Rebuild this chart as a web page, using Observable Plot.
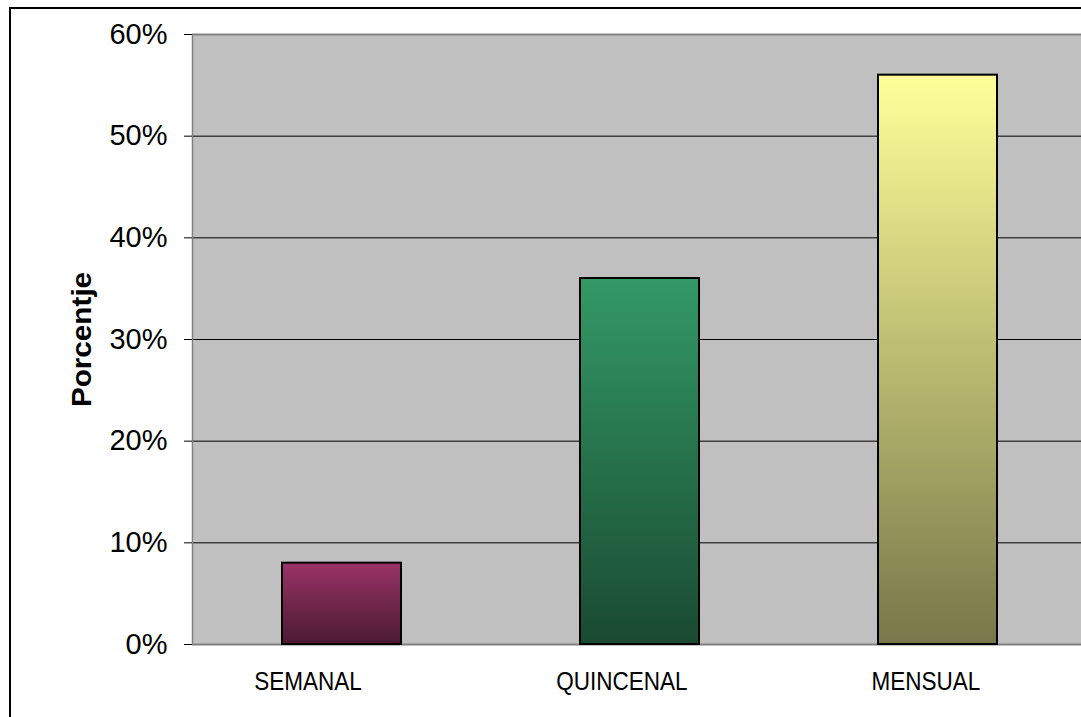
<!DOCTYPE html>
<html>
<head>
<meta charset="utf-8">
<script src="https://cdn.jsdelivr.net/npm/d3@7"></script>
<script src="https://cdn.jsdelivr.net/npm/@observablehq/plot@0.6"></script>
<style>
  html, body { margin: 0; padding: 0; background: #fff; overflow: hidden; }
  #wrap { position: relative; width: 1081px; height: 717px; overflow: hidden; }
  #chart { position: absolute; left: 0; top: 0; }
  #border { position: absolute; left: 9px; top: 7px; width: 1200px; height: 800px;
            border: 2px solid #000; pointer-events: none; }
  #chart svg { font-family: "Liberation Sans", Arial, sans-serif; }
</style>
</head>
<body>
<div id="wrap">
  <div id="chart"></div>
  <div id="border"></div>
</div>
<script>
// Frequency categories and the share of answers for each one
const categories = ["SEMANAL", "QUINCENAL", "MENSUAL"];
const shares = [0.08, 0.36, 0.56];
const yTicks = [0, 0.1, 0.2, 0.3, 0.4, 0.5, 0.6];
const yLabel = "Porcentje";

// Vertical gradient for each bar: light at the top, dark at the base
const gradientStops = [
  ["#9a3366", "#4a1a31"],
  ["#339966", "#194a31"],
  ["#ffff99", "#77774a"]
];

// Horizontal nudge of each category label relative to its bar centre
const labelShift = [-34, -18, -12];

const rows = categories.map((c, i) => ({category: c, share: shares[i], idx: i}));

// Render-function mark that only contributes the <defs> with the gradients
function gradients() {
  const defs = d3.create("svg:defs");
  gradientStops.forEach(([top, bottom], i) => {
    const g = defs.append("linearGradient")
      .attr("id", `bar-grad-${i}`)
      .attr("x1", 0).attr("y1", 0).attr("x2", 0).attr("y2", 1);
    g.append("stop").attr("offset", "0%").attr("stop-color", top);
    g.append("stop").attr("offset", "100%").attr("stop-color", bottom);
  });
  return defs.node();
}

const categoryLabels = rows.map((r, i) => Plot.text([r], {
  x: "category",
  y: 0,
  text: "category",
  dx: labelShift[i],
  dy: 28,
  lineAnchor: "top",
  fontSize: 25,
  className: "cat-label",
  fill: "#000"
}));

const chart = Plot.plot({
  width: 1087,
  height: 717,
  marginTop: 34,
  marginBottom: 73,
  marginLeft: 192,
  marginRight: 0,
  style: {background: "transparent", overflow: "visible", maxWidth: "none"},
  x: {domain: categories, paddingInner: 0.6, paddingOuter: 0.3, label: null},
  y: {domain: [0, 0.6], label: null},
  color: {type: "identity"},
  marks: [
    gradients,
    Plot.frame({fill: "#c0c0c0", stroke: null}),
    // horizontal gridlines
    Plot.ruleY(yTicks.filter(t => t > 0 && t < 0.6), {stroke: "#000", strokeWidth: 1}),
    // plot-area edges in grey
    Plot.ruleY([0.6], {stroke: "#808080", strokeWidth: 2}),
    Plot.ruleY([0], {stroke: "#808080", strokeWidth: 2}),
    Plot.frame({anchor: "left", stroke: "#808080", strokeWidth: 1.5}),
    Plot.barY(rows, {
      x: "category",
      y: "share",
      fill: d => `url(#bar-grad-${d.idx})`,
      stroke: "#000",
      strokeWidth: 2
    }),
    Plot.axisY({
      ticks: yTicks,
      tickFormat: d3.format(".0%"),
      tickSize: 8,
      tickPadding: 17,
      fontSize: 29,
      label: null,
      color: "#000"
    }),
    Plot.axisX({ticks: [], label: null}),
    ...categoryLabels,
    Plot.text([yLabel], {
      frameAnchor: "left",
      textAnchor: "middle",
      dx: -110,
      rotate: -90,
      fontSize: 28,
      fontWeight: "bold",
      className: "y-title",
      fill: "#000"
    })
  ]
});

document.getElementById("chart").appendChild(chart);

// Category labels are set in a condensed face; the axis title is slightly widened
function stretch(selector, factor) {
  d3.select(chart).selectAll(`${selector} text`).each(function () {
    const w = this.getComputedTextLength();
    d3.select(this)
      .attr("textLength", w * factor)
      .attr("lengthAdjust", "spacingAndGlyphs");
  });
}
stretch(".cat-label", 0.9);
stretch(".y-title", 1.06);
</script>
</body>
</html>
